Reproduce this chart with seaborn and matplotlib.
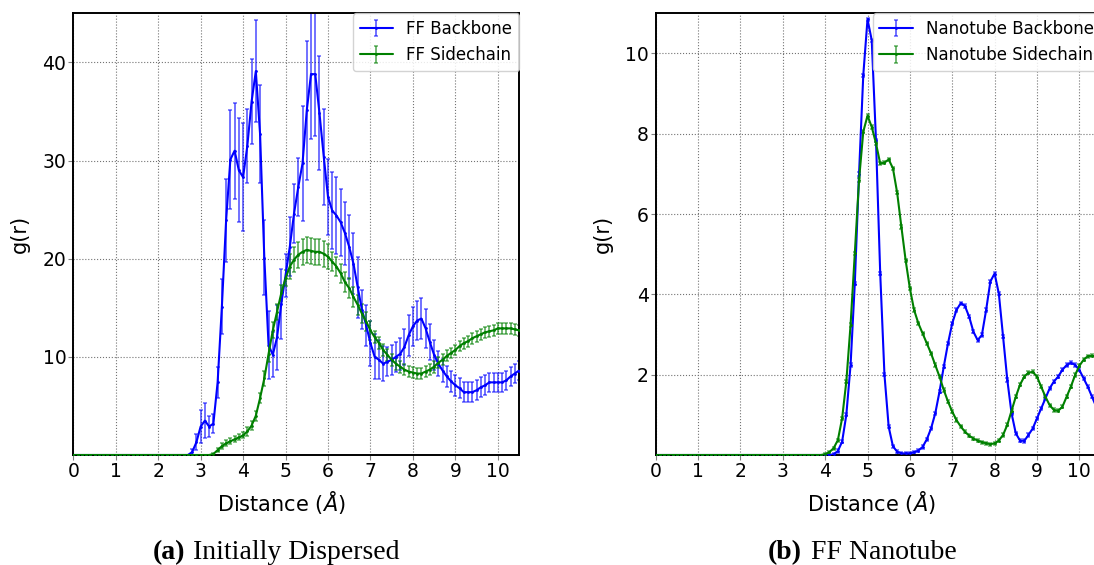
import numpy as np
import matplotlib
matplotlib.use("Agg")
import matplotlib.pyplot as plt
import seaborn as sns
from matplotlib.legend_handler import HandlerTuple

# ---------------- data ----------------
r = np.round(np.arange(0, 106) * 0.1, 1)  # sampling grid 0.0 .. 10.5 A

ff_backbone = [0, 0, 0, 0, 0, 0, 0, 0, 0, 0,
               0, 0, 0, 0, 0, 0, 0, 0, 0, 0,
               0, 0, 0, 0, 0, 0, 0, 0, 0.3, 1.3,
               2.9, 3.5, 2.9, 3.2, 7.4, 15.1, 23.9, 30.1, 31.0, 29.0,
               28.3, 31.5, 36.0, 39.1, 32.7, 20.1, 11.2, 10.2, 12.0, 15.4,
               18.3, 21.2, 24.6, 27.3, 29.7, 35.1, 38.8, 38.8, 34.8, 30.4,
               26.3, 24.9, 24.4, 23.7, 22.6, 21.2, 19.5, 17.1, 14.8, 13.2,
               11.4, 10.0, 9.7, 9.3, 9.5, 9.7, 10.0, 10.3, 11.0, 12.2,
               13.1, 13.7, 13.9, 12.9, 11.5, 10.2, 9.3, 8.6, 8.0, 7.5,
               7.1, 6.8, 6.4, 6.4, 6.4, 6.6, 6.9, 7.1, 7.4, 7.4,
               7.4, 7.4, 7.6, 8.0, 8.3, 8.6]
ff_backbone_err = [0, 0, 0, 0, 0, 0, 0, 0, 0, 0,
                   0, 0, 0, 0, 0, 0, 0, 0, 0, 0,
                   0, 0, 0, 0, 0, 0, 0, 0, 0.3, 0.8,
                   1.7, 1.8, 1.1, 1.0, 1.6, 2.8, 4.2, 5.0, 4.9, 5.3,
                   5.5, 3.8, 4.3, 5.2, 5.0, 3.8, 3.5, 2.3, 3.3, 3.6,
                   2.2, 3.0, 3.0, 3.0, 5.9, 7.1, 6.6, 6.3, 5.8, 4.9,
                   3.9, 3.9, 3.9, 3.4, 3.2, 3.3, 3.1, 3.1, 2.0, 2.1,
                   2.3, 2.3, 2.0, 1.8, 1.5, 1.5, 1.5, 1.6, 1.8, 2.1,
                   2.0, 2.0, 2.1, 2.0, 1.8, 1.5, 1.3, 1.2, 1.1, 1.1,
                   1.1, 1.0, 1.0, 1.0, 1.0, 1.0, 1.0, 1.0, 1.0, 1.0,
                   1.0, 1.0, 1.0, 1.0, 1.0, 1.0]
ff_sidechain = [0, 0, 0, 0, 0, 0, 0, 0, 0, 0,
                0, 0, 0, 0, 0, 0, 0, 0, 0, 0,
                0, 0, 0, 0, 0, 0, 0, 0, 0, 0,
                0, 0, 0, 0.1, 0.5, 0.9, 1.2, 1.4, 1.6, 1.8,
                2.0, 2.4, 3.0, 4.0, 5.8, 7.8, 10.3, 12.7, 14.6, 16.5,
                18.0, 19.2, 19.9, 20.4, 20.7, 20.9, 20.8, 20.7, 20.7, 20.5,
                20.2, 19.7, 19.2, 18.5, 17.6, 17.0, 16.1, 15.3, 14.4, 13.6,
                12.7, 12.0, 11.4, 10.7, 10.2, 9.7, 9.3, 9.0, 8.7, 8.5,
                8.4, 8.3, 8.3, 8.5, 8.7, 9.0, 9.4, 9.7, 10.1, 10.4,
                10.7, 11.1, 11.4, 11.6, 11.9, 12.1, 12.3, 12.5, 12.6, 12.7,
                12.9, 12.9, 12.9, 12.9, 12.8, 12.7]
ff_sidechain_err = [0, 0, 0, 0, 0, 0, 0, 0, 0, 0,
                    0, 0, 0, 0, 0, 0, 0, 0, 0, 0,
                    0, 0, 0, 0, 0, 0, 0, 0, 0, 0,
                    0, 0, 0, 0.1, 0.2, 0.3, 0.3, 0.3, 0.3, 0.3,
                    0.3, 0.5, 0.5, 0.5, 0.5, 0.8, 0.8, 0.8, 0.8, 0.8,
                    0.8, 1.3, 1.3, 1.3, 1.3, 1.3, 1.3, 1.3, 1.3, 1.3,
                    1.3, 1.0, 1.0, 1.0, 1.0, 1.0, 1.0, 1.0, 1.0, 1.0,
                    1.0, 0.6, 0.6, 0.6, 0.6, 0.6, 0.6, 0.6, 0.6, 0.6,
                    0.6, 0.6, 0.6, 0.6, 0.6, 0.6, 0.55, 0.55, 0.55, 0.55,
                    0.55, 0.55, 0.55, 0.55, 0.55, 0.55, 0.55, 0.55, 0.55, 0.55,
                    0.55, 0.55, 0.55, 0.55, 0.55, 0.55]

nt_backbone = [0, 0, 0, 0, 0, 0, 0, 0, 0, 0,
               0, 0, 0, 0, 0, 0, 0, 0, 0, 0,
               0, 0, 0, 0, 0, 0, 0, 0, 0, 0,
               0, 0, 0, 0, 0, 0, 0, 0, 0, 0,
               0, 0, 0.02, 0.1, 0.33, 1.0, 2.24, 4.27, 7.0, 9.46,
               10.85, 10.33, 7.84, 4.52, 2.0, 0.7, 0.22, 0.08, 0.04, 0.04,
               0.04, 0.07, 0.11, 0.2, 0.39, 0.66, 1.04, 1.58, 2.2, 2.78,
               3.28, 3.61, 3.78, 3.71, 3.44, 3.07, 2.86, 2.99, 3.61, 4.32,
               4.52, 4.02, 2.95, 1.87, 1.04, 0.54, 0.36, 0.35, 0.5, 0.66,
               0.91, 1.16, 1.41, 1.66, 1.83, 1.95, 2.12, 2.24, 2.3, 2.24,
               2.12, 1.91, 1.7, 1.45, 1.2, 0.95]
nt_sidechain = [0, 0, 0, 0, 0, 0, 0, 0, 0, 0,
                0, 0, 0, 0, 0, 0, 0, 0, 0, 0,
                0, 0, 0, 0, 0, 0, 0, 0, 0, 0,
                0, 0, 0, 0, 0, 0, 0, 0, 0, 0,
                0.02, 0.07, 0.17, 0.37, 0.91, 1.83, 3.24, 5.02, 6.85, 8.05,
                8.45, 8.17, 7.76, 7.26, 7.28, 7.36, 7.14, 6.53, 5.68, 4.85,
                4.15, 3.61, 3.28, 3.03, 2.78, 2.53, 2.24, 1.95, 1.62, 1.33,
                1.08, 0.87, 0.71, 0.58, 0.48, 0.41, 0.36, 0.32, 0.29, 0.27,
                0.29, 0.36, 0.5, 0.75, 1.1, 1.45, 1.75, 1.95, 2.05, 2.07,
                1.95, 1.7, 1.45, 1.24, 1.12, 1.10, 1.2, 1.45, 1.7, 1.99,
                2.22, 2.37, 2.46, 2.47, 2.46, 2.4]
nt_err = 0.04  # tiny error bars on the nanotube curves

left_labels = ["FF Backbone", "FF Sidechain"]
right_labels = ["Nanotube Backbone", "Nanotube Sidechain"]
left_yticks = [10, 20, 30, 40]
right_yticks = [2, 4, 6, 8, 10]
xticks = list(range(0, 11))

# ---------------- style ----------------
sns.set_style("whitegrid")
plt.rcParams["font.family"] = ["DejaVu Sans"]
plt.rcParams["text.color"] = "black"
plt.rcParams["axes.labelcolor"] = "black"
BLUE = (0, 0, 1)
GREEN = (0, 0.5, 0)

fig = plt.figure(figsize=(10.94, 5.65), dpi=100)
axL = fig.add_axes([73.3 / 1094, 1 - 455 / 565, 445.7 / 1094, 441.7 / 565])
axR = fig.add_axes([655.7 / 1094, 1 - 455 / 565, 444.8 / 1094, 441.7 / 565])


def draw(ax, y, err, color):
    y = np.asarray(y, float)
    e = np.asarray(err, float) * (y > 0)
    eb = ax.errorbar(r, y, yerr=e, fmt="none", ecolor=color, elinewidth=1.3,
                     capsize=1.4, capthick=1.1, alpha=0.6, zorder=2)
    sns.lineplot(x=r, y=y, ax=ax, color=color, lw=1.5, marker=".",
                 markersize=4, markeredgewidth=0, legend=False, zorder=3)
    line = ax.lines[-1]
    return (eb, line)


hL1 = draw(axL, ff_backbone, ff_backbone_err, BLUE)
hL2 = draw(axL, ff_sidechain, ff_sidechain_err, GREEN)
hR1 = draw(axR, nt_backbone, [nt_err] * len(r), BLUE)
hR2 = draw(axR, nt_sidechain, [nt_err] * len(r), GREEN)

for ax, ylim, yt, handles, labels, lx in [
        (axL, 45, left_yticks, [hL1, hL2], left_labels, 0.466),
        (axR, 11, right_yticks, [hR1, hR2], right_labels, 0.484)]:
    ax.set_xlim(0, 10.5)
    ax.set_ylim(0, ylim)
    ax.set_xticks(xticks)
    ax.set_yticks(yt)
    ax.grid(True, color="0.45", linestyle=":", linewidth=0.8)
    for s in ax.spines.values():
        s.set_color("black")
        s.set_linewidth(1.4)
    ax.tick_params(axis="both", labelsize=13.5, length=3.5, width=0.8,
                   color="0.5", labelcolor="black", pad=1.5,
                   left=True, bottom=True)
    ax.set_xlabel(r"Distance ($\AA$)", fontsize=15, labelpad=6)
    ax.xaxis.set_label_coords(lx, -0.077)
    ax.set_ylabel("g(r)", fontsize=15, labelpad=9)
    ax.legend(handles=handles, labels=labels, loc="upper right",
              fontsize=12, borderaxespad=0, frameon=True,
              edgecolor="0.8", framealpha=0.85,
              handler_map={tuple: HandlerTuple(ndivide=1)})

# captions
cap_kw = dict(fontsize=20, family="Liberation Serif", va="baseline",
              color="black")
fig.text(153 / 1094, 1 - 559 / 565, "(a)", fontweight="bold", **cap_kw)
fig.text(193 / 1094, 1 - 559 / 565, "Initially Dispersed", **cap_kw)
fig.text(768 / 1094, 1 - 559 / 565, "(b)", fontweight="bold", **cap_kw)
fig.text(810.7 / 1094, 1 - 559 / 565, "FF Nanotube", **cap_kw)

fig.savefig("out.png", dpi=100)
